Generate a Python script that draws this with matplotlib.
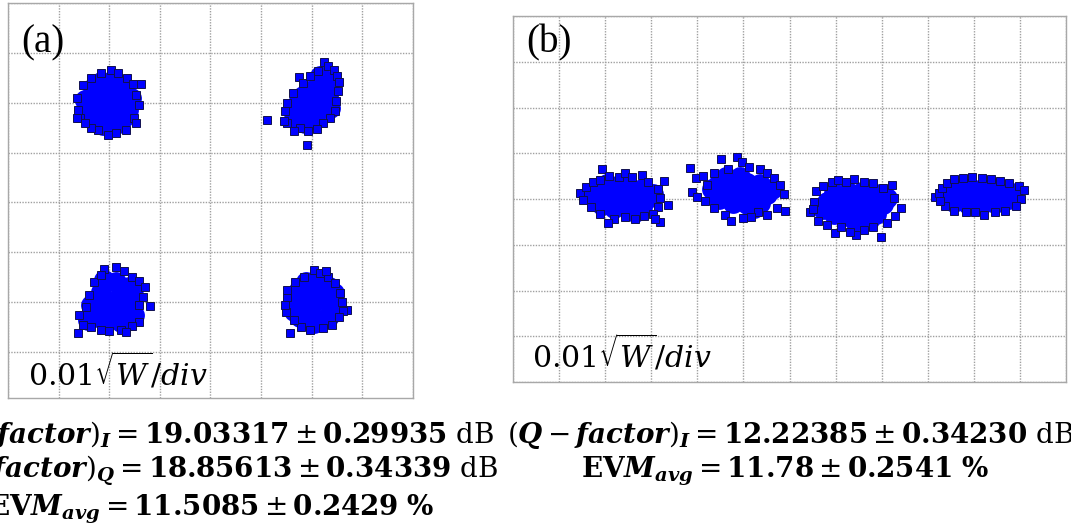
import numpy as np
import matplotlib.pyplot as plt

plt.rcParams['mathtext.fontset'] = 'dejavuserif'
plt.rcParams['font.family'] = ['Liberation Serif', 'DejaVu Serif']

# constellation data in grid divisions (0.01 sqrt(W)/div)
# (a) 4 QAM-like clusters: centre + hand-read points relative to the centre
centres_a = [(-2.02, 2.0), (2.02, 2.04), (-1.96, -2.0), (2.04, -2.0)]

core_a = [
    [(0, 0), (0.25, 0), (-0.25, 0), (0, 0.25), (0, -0.25), (0.3, 0.3), (-0.3, 0.3), (0.3, -0.3),
     (-0.3, -0.3), (0.45, 0.1), (-0.45, 0.05), (0.1, 0.45), (-0.1, -0.45), (0.4, -0.15),
     (-0.4, -0.15), (0.15, -0.42), (-0.15, 0.42)],
    [(0, 0), (0.2, 0.2), (0.35, 0.4), (-0.2, -0.2), (-0.35, -0.35), (0.2, -0.05), (-0.05, 0.2),
     (0.3, 0.1), (0.1, 0.35), (-0.3, -0.05), (0.0, -0.3), (0.1, -0.2), (-0.2, 0.1), (0.35, -0.15),
     (0.15, 0.5), (-0.4, -0.2), (-0.15, -0.45)],
    [(0, 0), (0.2, 0.15), (-0.2, -0.15), (0.35, 0.3), (-0.35, -0.3), (0.1, 0.4), (0.4, 0.05),
     (-0.1, -0.4), (-0.4, -0.05), (0.25, -0.2), (-0.2, 0.2), (0.05, -0.2), (0.45, -0.25),
     (-0.45, -0.35), (0.2, -0.4), (-0.15, 0.45), (0.45, 0.3)],
    [(0, 0), (0.25, 0.05), (-0.25, -0.05), (0.05, 0.28), (-0.05, -0.28), (0.3, 0.3), (-0.3, 0.25),
     (0.3, -0.28), (-0.28, -0.3), (0.42, -0.05), (-0.42, 0.05), (0.1, 0.42), (0.0, -0.42),
     (0.4, 0.18), (-0.4, -0.18), (0.15, -0.35), (-0.15, 0.4)],
]

edge_a = [
    [(-0.62, 0.1), (-0.6, -0.15), (-0.55, -0.3), (-0.62, -0.3), (-0.5, 0.35), (-0.35, 0.5),
     (-0.15, 0.6), (0.05, 0.65), (0.2, 0.6), (0.38, 0.5), (0.48, 0.38), (0.64, 0.38), (0.55, 0.15),
     (0.6, -0.05), (0.5, -0.3), (0.55, -0.4), (0.35, -0.55), (0.15, -0.6), (0.0, -0.65),
     (-0.2, -0.55), (-0.35, -0.5), (-0.45, -0.4)],
    [(0.22, 0.78), (0.3, 0.7), (0.42, 0.62), (0.48, 0.5), (0.52, 0.38), (0.5, 0.2), (0.45, 0.0),
     (0.44, -0.2), (0.35, -0.35), (0.2, -0.45), (0.08, -0.56), (-0.1, -0.6), (-0.25, -0.55),
     (-0.38, -0.6), (-0.5, -0.45), (-0.56, -0.4), (-0.55, -0.2), (-0.5, -0.05), (-0.4, 0.15),
     (-0.28, 0.48), (-0.2, 0.35), (-0.05, 0.5), (0.1, 0.6), (-0.9, -0.38), (-0.12, -0.88)],
    [(0.1, 0.7), (-0.14, 0.66), (0.25, 0.62), (0.4, 0.5), (0.55, 0.42), (0.66, 0.3), (0.62, 0.1),
     (0.76, -0.08), (0.55, -0.05), (0.54, -0.4), (0.4, -0.48), (0.2, -0.55), (-0.04, -0.58),
     (-0.2, -0.55), (-0.4, -0.5), (-0.55, -0.45), (-0.64, -0.26), (-0.66, -0.62), (-0.5, -0.1),
     (-0.44, 0.14), (-0.34, 0.4), (-0.2, 0.55), (0.3, -0.6)],
    [(0.0, 0.64), (0.12, 0.58), (0.28, 0.5), (0.42, 0.38), (0.52, 0.18), (0.55, 0.0), (0.66, -0.16),
     (0.58, -0.18), (0.5, -0.3), (0.36, -0.46), (0.18, -0.52), (-0.08, -0.56), (-0.25, -0.5),
     (-0.4, -0.35), (-0.55, -0.2), (-0.56, -0.06), (-0.52, 0.1), (-0.52, 0.24), (-0.38, 0.4),
     (-0.2, 0.5), (-0.46, -0.62), (0.25, 0.62)],
]

# (b) 4 PAM-like clusters along the I axis
centres_b = [(2.34, 0.02), (4.92, 0.11), (7.42, -0.07), (10.02, 0.04)]

core_b = [
    [(0, 0), (0.3, 0), (-0.3, 0), (0.6, 0), (-0.6, 0.05), (0.15, 0.22), (-0.15, 0.22), (0.45, 0.2),
     (-0.45, 0.18), (0.15, -0.22), (-0.15, -0.22), (0.45, -0.2), (-0.4, -0.15), (0.7, 0.1),
     (0.0, 0.3), (0.3, -0.3), (-0.3, 0.3)],
    [(0, 0), (0.3, 0.05), (-0.3, 0.05), (0.6, 0), (-0.6, 0.1), (0.15, 0.25), (-0.15, 0.28),
     (0.45, 0.22), (-0.45, 0.25), (0.15, -0.22), (-0.15, -0.2), (0.45, -0.2), (-0.45, -0.12),
     (0.7, 0.1), (0.0, 0.38), (0.3, -0.3), (-0.3, 0.38)],
    [(0, -0.05), (0.3, 0), (-0.3, -0.05), (0.6, -0.05), (-0.6, 0), (0.15, 0.22), (-0.15, 0.22),
     (0.45, 0.18), (-0.45, 0.2), (0.15, -0.28), (-0.15, -0.3), (0.45, -0.25), (-0.45, -0.25),
     (0.7, 0.1), (-0.7, -0.15), (0.0, -0.42), (0.3, -0.38)],
    [(0, 0.03), (0.3, 0.03), (-0.3, 0.03), (0.6, 0.05), (-0.55, 0.05), (0.15, 0.18), (-0.15, 0.18),
     (0.45, 0.18), (-0.4, 0.2), (0.15, -0.15), (-0.15, -0.15), (0.45, -0.12), (-0.45, -0.1),
     (0.8, 0.1), (0.75, -0.05)],
]

edge_b = [
    [(-0.89, 0.11), (-0.82, -0.05), (-0.75, 0.25), (-0.6, 0.35), (-0.41, 0.63), (-0.45, 0.4),
     (-0.25, 0.48), (-0.05, 0.45), (0.1, 0.55), (0.25, 0.45), (0.45, 0.5), (0.6, 0.35), (0.93, 0.38),
     (0.8, 0.2), (0.85, 0.0), (1.02, -0.15), (0.8, -0.2), (0.7, -0.35), (0.85, -0.53), (0.5, -0.4),
     (0.3, -0.45), (0.1, -0.42), (-0.15, -0.45), (-0.28, -0.55), (-0.45, -0.35), (-0.65, -0.2),
     (0.75, -0.45)],
    [(-1.08, 0.57), (-1.04, 0.04), (-0.93, -0.07), (-0.95, 0.35), (-0.8, 0.4), (-0.7, 0.2),
     (-0.41, 0.76), (-0.07, 0.81), (0.05, 0.7), (-0.25, 0.55), (0.2, 0.6), (0.45, 0.55), (0.6, 0.45),
     (0.75, 0.35), (0.88, 0.2), (0.95, 0.0), (0.98, -0.37), (0.8, -0.3), (0.6, -0.45), (0.4, -0.4),
     (0.07, -0.53), (-0.33, -0.46), (-0.2, -0.6), (-0.55, -0.3), (-0.75, -0.15), (0.25, -0.5),
     (-0.55, 0.45)],
    [(-0.98, -0.22), (-0.88, 0.0), (-0.85, 0.25), (-0.7, 0.35), (-0.5, 0.45), (-0.37, 0.48),
     (-0.2, 0.45), (-0.02, 0.5), (0.2, 0.45), (0.4, 0.42), (0.6, 0.3), (0.8, 0.37), (0.85, 0.1),
     (0.99, -0.13), (0.88, -0.3), (0.7, -0.45), (0.56, -0.77), (0.4, -0.55), (0.2, -0.6),
     (0.02, -0.72), (-0.11, -0.66), (-0.43, -0.68), (-0.3, -0.55), (-0.6, -0.5), (-0.8, -0.4),
     (-0.9, -0.15)],
    [(-0.87, 0.0), (-0.78, 0.1), (-0.7, 0.2), (-0.6, 0.3), (-0.45, 0.4), (-0.25, 0.42),
     (-0.05, 0.45), (0.15, 0.42), (0.35, 0.4), (0.55, 0.35), (0.75, 0.3), (0.95, 0.25), (1.06, 0.15),
     (1.0, -0.05), (0.9, -0.2), (0.65, -0.3), (0.45, -0.32), (0.2, -0.39), (0.0, -0.32),
     (-0.2, -0.33), (-0.45, -0.3), (-0.65, -0.2), (-0.75, -0.08)],
]

# measured figures printed below each panel
qI_a = ('19.03317', '0.29935')
qQ_a = ('18.85613', '0.34339')
evm_a = ('11.5085', '0.2429')
qI_b = ('12.22385', '0.34230')
evm_b = ('11.78', '0.2541')

W, H = 1071, 529
fig = plt.figure(figsize=(W / 100, H / 100), dpi=100)


def draw_cluster(ax, centre, core, edge):
    cx, cy = centre
    c = np.array(core)
    e = np.array(edge)
    ax.plot(cx + c[:, 0], cy + c[:, 1], 'o', ms=15, color='#0000ff', mec='none', zorder=3)
    ax.plot(cx + e[:, 0], cy + e[:, 1], 's', ms=5.2, mfc='#0000ff', mec='#101050', mew=0.7, zorder=4)


def style(ax):
    ax.tick_params(length=0, labelbottom=False, labelleft=False)
    ax.grid(True, color='#a0a0a0', ls=(0, (1, 1)), lw=1.0, zorder=0)
    ax.set_axisbelow(True)
    for s in ax.spines.values():
        s.set_color('#a8a8a8')
        s.set_linewidth(1.0)


ax_a = fig.add_axes([8 / W, 1 - 398 / H, 405 / W, 395 / H])
ax_a.set_xlim(-4, 4)
ax_a.set_ylim(-3.92, 4)
ax_a.set_xticks(range(-4, 5))
ax_a.set_yticks(range(-3, 5))
style(ax_a)
for c, k, e in zip(centres_a, core_a, edge_a):
    draw_cluster(ax_a, c, k, e)

ax_b = fig.add_axes([513 / W, 1 - 382 / H, 553 / W, 366 / H])
ax_b.set_xlim(0, 12)
ax_b.set_ylim(-4, 4)
ax_b.set_xticks(range(0, 13))
ax_b.set_yticks(range(-4, 5))
style(ax_b)
for c, k, e in zip(centres_b, core_b, edge_b):
    draw_cluster(ax_b, c, k, e)

# panel labels and scale
fig.text(21 / W, 1 - 52 / H, '(a)', fontsize=28, va='baseline')
fig.text(526 / W, 1 - 52 / H, '(b)', fontsize=28, va='baseline')
scale = r'$0.01\sqrt{W}/div$'
fig.text(28 / W, 1 - 386 / H, scale, fontsize=21.5, va='baseline')
fig.text(532 / W, 1 - 367 / H, scale, fontsize=21.5, va='baseline')


def qline(sub, vals):
    return (r'$(\mathbfit{Q}-\mathbfit{factor})_{\mathbfit{%s}} = \mathbf{%s} \pm \mathbf{%s}\ \mathrm{dB}$'
            % (sub, vals[0], vals[1]))


def evmline(vals):
    return r'$\mathbf{EV}\mathbfit{M}_{\mathbfit{avg}} = \mathbf{%s} \pm \mathbf{%s}\ \mathbf{\%%}$' % vals


fs = 20
fig.text(211 / W, 1 - 443 / H, qline('I', qI_a), fontsize=fs, ha='center', va='baseline')
fig.text(211 / W, 1 - 478 / H, qline('Q', qQ_a), fontsize=fs, ha='center', va='baseline')
fig.text(211 / W, 1 - 515 / H, evmline(evm_a), fontsize=fs, ha='center', va='baseline')
fig.text(790 / W, 1 - 443 / H, qline('I', qI_b), fontsize=fs, ha='center', va='baseline')
fig.text(785 / W, 1 - 477 / H, evmline(evm_b), fontsize=fs, ha='center', va='baseline')

fig.savefig('out.png', dpi=100)
